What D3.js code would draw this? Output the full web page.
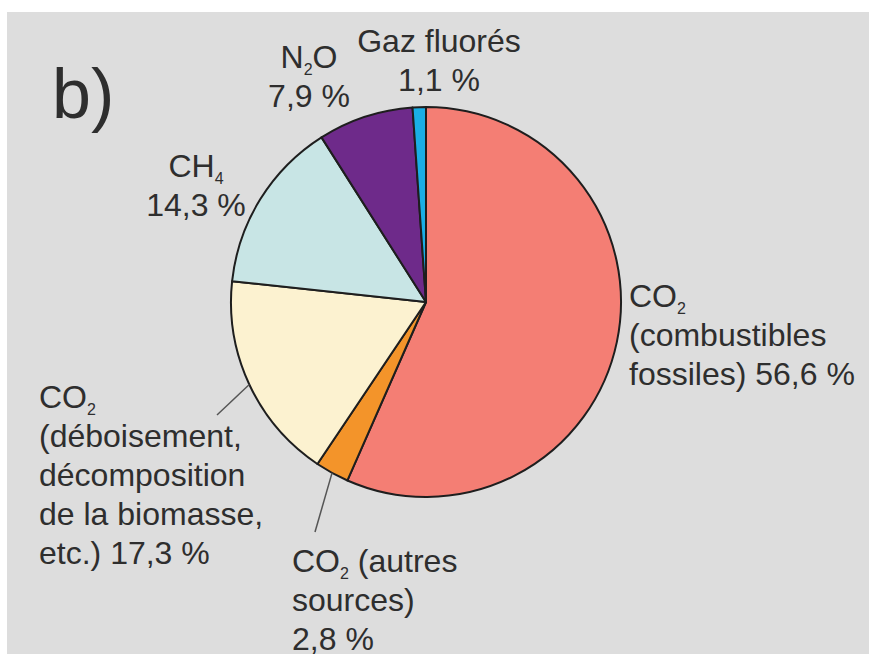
<!DOCTYPE html>
<html>
<head>
<meta charset="utf-8">
<script src="https://cdn.jsdelivr.net/npm/d3@7"></script>
<style>
  body { margin: 0; background: #fff; }
  text { font-family: "Liberation Sans", Arial, sans-serif; fill: #2e2e2e; }
</style>
</head>
<body>
<svg id="chart"></svg>
<script>
// shares of greenhouse gas emissions, clockwise from 12 o'clock
var categories = ["CO2 fossiles", "CO2 autres", "CO2 deboisement", "CH4", "N2O", "Gaz fluores"];
var values = [56.6, 2.8, 17.3, 14.3, 7.9, 1.1];
var colors = ["#f47e74", "#f3942a", "#fcf2d0", "#c8e5e5", "#6e2a8a", "#1aaee5"];
// label lines, "_n" = subscript n
var labelLines = [
    ["CO_2", "(combustibles", "fossiles) 56,6 %"],
    ["CO_2 (autres", "sources)", "2,8 %"],
    ["CO_2", "(déboisement,", "décomposition", "de la biomasse,", "etc.) 17,3 %"],
    ["CH_4", "14,3 %"],
    ["N_2O", "7,9 %"],
    ["Gaz fluorés", "1,1 %"]
];

var width = 869, height = 654;
var cx = 426, cy = 302, radius = 195;

// where each label sits (first baseline), and leader line ends
var labelPos = [
    { x: 629, y: 307, anchor: "start" },
    { x: 292, y: 572, anchor: "start", leader: [315, 532] },
    { x: 39, y: 408, anchor: "start", leader: [217, 415] },
    { x: 196, y: 177, anchor: "middle" },
    { x: 309, y: 68, anchor: "middle" },
    { x: 439, y: 52, anchor: "middle" }
];
var lineHeight = 39;

var svg = d3.select("#chart")
    .attr("width", width)
    .attr("height", height);

//grey panel with white margin on top/left
svg.append("rect").attr("x", 0).attr("y", 0).attr("width", width).attr("height", height).attr("fill", "#fff");
svg.append("rect").attr("x", 7).attr("y", 12).attr("width", width - 7).attr("height", height - 12).attr("fill", "#dddddd");

svg.append("text")
    .attr("x", 52).attr("y", 118)
    .style("font-size", "70px")
    .text("b)");

var pie = d3.pie().sort(null).value(d => d);
var arcs = pie(values);
var arc = d3.arc().innerRadius(0).outerRadius(radius);

var g = svg.append("g").attr("transform", "translate(" + cx + "," + cy + ")");

g.selectAll("path")
    .data(arcs)
    .enter()
    .append("path")
    .attr("d", arc)
    .attr("fill", (d, i) => colors[i])
    .attr("stroke", "#1e1e1e")
    .attr("stroke-width", 2)
    .attr("stroke-linejoin", "round");

//leader lines from the slice middle on the rim
arcs.forEach((d, i) => {
    var p = labelPos[i];
    if (!p.leader) return;
    var a = (d.startAngle + d.endAngle) / 2;
    svg.append("line")
        .attr("x1", cx + radius * Math.sin(a))
        .attr("y1", cy - radius * Math.cos(a))
        .attr("x2", p.leader[0])
        .attr("y2", p.leader[1])
        .attr("stroke", "#555")
        .attr("stroke-width", 1.5);
});

//labels
labelLines.forEach((lines, i) => {
    var p = labelPos[i];
    lines.forEach((line, k) => {
        var t = svg.append("text")
            .attr("x", p.x)
            .attr("y", p.y + k * lineHeight)
            .attr("text-anchor", p.anchor)
            .style("font-size", "32px");
        var parts = line.split(/_(\d)/);
        var shift = 0;
        parts.forEach((s, j) => {
            if (s === "") return;
            if (j % 2 === 1) {
                t.append("tspan").attr("dy", 7).style("font-size", "16px").text(s);
                shift = -7;
            } else {
                t.append("tspan").attr("dy", shift).text(s);
                shift = 0;
            }
        });
    });
});
</script>
</body>
</html>
